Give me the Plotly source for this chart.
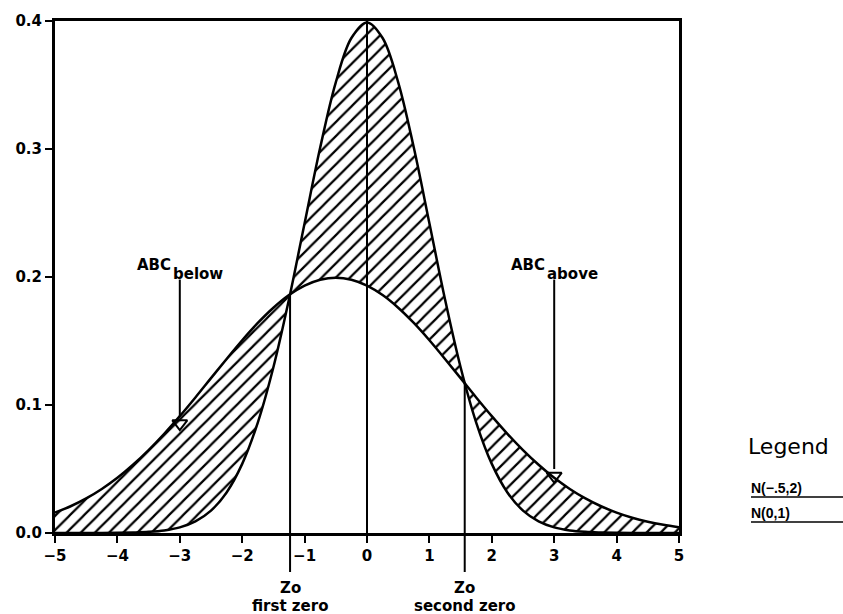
import plotly.graph_objects as go

# ---- data ----
x_vals = [-5, -4.75, -4.5, -4.25, -4, -3.75, -3.5, -3.25, -3, -2.75, -2.5, -2.25, -2, -1.75, -1.5,
          -1.25, -1, -0.75, -0.5, -0.25, 0, 0.25, 0.5, 0.75, 1, 1.25, 1.5, 1.75, 2, 2.25, 2.5,
          2.75, 3, 3.25, 3.5, 3.75, 4, 4.25, 4.5, 4.75, 5]
n_m05_2 = [0.0159, 0.0209, 0.0270, 0.0344, 0.0431, 0.0533, 0.0648, 0.0775, 0.0913, 0.1059, 0.1210,
           0.1360, 0.1506, 0.1641, 0.1760, 0.1859, 0.1933, 0.1979, 0.1995, 0.1979, 0.1933, 0.1859,
           0.1760, 0.1641, 0.1506, 0.1360, 0.1210, 0.1059, 0.0913, 0.0775, 0.0648, 0.0533, 0.0431,
           0.0344, 0.0270, 0.0209, 0.0159, 0.0119, 0.0088, 0.0064, 0.0045]
n_0_1 = [0.0000, 0.0000, 0.0000, 0.0000, 0.0001, 0.0004, 0.0009, 0.0020, 0.0044, 0.0091, 0.0175,
         0.0317, 0.0540, 0.0863, 0.1295, 0.1826, 0.2420, 0.3011, 0.3521, 0.3867, 0.3989, 0.3867,
         0.3521, 0.3011, 0.2420, 0.1826, 0.1295, 0.0863, 0.0540, 0.0317, 0.0175, 0.0091, 0.0044,
         0.0020, 0.0009, 0.0004, 0.0001, 0.0000, 0.0000, 0.0000, 0.0000]

zero_x = [-1.233, 1.566]
zero_y = [0.186, 0.117]
zero_top_labels = ["Zo", "Zo"]
zero_bottom_labels = ["first zero", "second zero"]
peak_x = 0.0
peak_y = 0.4

abc_x = [-3, 3]
abc_top = [0.198, 0.198]
abc_tip = [0.080, 0.039]
abc_main = ["ABC", "ABC"]
abc_sub = ["below", "above"]

x_ticks = [-5, -4, -3, -2, -1, 0, 1, 2, 3, 4, 5]
y_ticks = [0.0, 0.1, 0.2, 0.3, 0.4]
legend_title = "Legend"
legend_labels = ["N(−.5,2)", "N(0,1)"]

Y_MAX = 0.4
FONT = "DejaVu Sans"
W, H = 843, 614
ML, MR, MT, MB = 55, 164, 21, 81
plot_w = W - ML - MR
plot_h = H - MT - MB


def px_to_paper(px, py):
    return (px - ML) / plot_w, (H - MB - py) / plot_h


def bold(s, fam=FONT):
    return dict(family=fam, size=s, color="black", weight="bold")


fig = go.Figure()
fig.add_trace(go.Scatter(x=x_vals, y=n_m05_2, mode="lines",
                         line=dict(color="black", width=2.5, shape="spline"),
                         showlegend=False, hoverinfo="skip"))
fig.add_trace(go.Scatter(x=x_vals, y=n_0_1, mode="lines",
                         line=dict(color="black", width=2.5, shape="spline"),
                         fill="tonexty", fillcolor="rgba(0,0,0,0)",
                         fillpattern=dict(shape="/", fgcolor="black", fgopacity=1, bgcolor="white",
                                          size=10, solidity=0.22),
                         showlegend=False, hoverinfo="skip"))

shapes = []
annotations = []

# zero lines, extending below the axis
_, below = px_to_paper(0, 572)
for zx, zy in zip(zero_x, zero_y):
    shapes.append(dict(type="line", xref="x", yref="paper", x0=zx, x1=zx, y0=below, y1=zy / Y_MAX,
                       line=dict(color="black", width=2)))
# centre line
shapes.append(dict(type="line", xref="x", yref="y", x0=peak_x, x1=peak_x, y0=0, y1=peak_y,
                   line=dict(color="black", width=2)))

# arrows
tri_h = 0.011
for ax, at, tip in zip(abc_x, abc_top, abc_tip):
    shapes.append(dict(type="line", xref="x", yref="y", x0=ax, x1=ax, y0=at, y1=tip + tri_h,
                       line=dict(color="black", width=2)))
fig.add_trace(go.Scatter(x=abc_x, y=[t + tri_h / 2 for t in abc_tip], mode="markers",
                         marker=dict(symbol="triangle-down-open", size=13, color="black",
                                     line=dict(width=2, color="black")),
                         showlegend=False, hoverinfo="skip"))

for ax, at, main, sub in zip(abc_x, abc_top, abc_main, abc_sub):
    annotations.append(dict(x=ax, y=at, xref="x", yref="y", text=main, showarrow=False,
                            xanchor="right", yanchor="bottom", xshift=-7, yshift=4, font=bold(15)))
    annotations.append(dict(x=ax, y=at, xref="x", yref="y", text=sub, showarrow=False,
                            xanchor="left", yanchor="bottom", xshift=-9, yshift=-5, font=bold(15)))

_, zo_y = px_to_paper(0, 588)
_, fz_y = px_to_paper(0, 606)
for zx, top, bot in zip(zero_x, zero_top_labels, zero_bottom_labels):
    annotations.append(dict(x=zx, y=zo_y, xref="x", yref="paper", text=top, showarrow=False,
                            xanchor="center", yanchor="middle", font=bold(15)))
    annotations.append(dict(x=zx, y=fz_y, xref="x", yref="paper", text=bot, showarrow=False,
                            xanchor="center", yanchor="middle", font=bold(15)))

# legend drawn as text + underline
lx, ly = px_to_paper(746, 446)
annotations.append(dict(x=lx, y=ly, xref="paper", yref="paper", text=legend_title, showarrow=False,
                        xanchor="left", yanchor="middle",
                        font=dict(family=FONT, size=22, color="black")))
for i, lab in enumerate(legend_labels):
    tx, ty = px_to_paper(749, 488 + 25 * i)
    annotations.append(dict(x=tx, y=ty, xref="paper", yref="paper", text=lab, showarrow=False,
                            xanchor="left", yanchor="middle", font=bold(14, "Liberation Sans")))
    ux0, uy = px_to_paper(751, 497 + 25 * i)
    ux1, _ = px_to_paper(843, 497 + 25 * i)
    shapes.append(dict(type="line", xref="paper", yref="paper", x0=ux0, x1=ux1, y0=uy, y1=uy,
                       line=dict(color="black", width=1.5)))

fig.update_layout(
    width=W, height=H,
    margin=dict(l=ML, r=MR, t=MT, b=MB, autoexpand=False),
    paper_bgcolor="white", plot_bgcolor="white",
    shapes=shapes, annotations=annotations,
    showlegend=False,
)

fig.update_xaxes(range=[-5, 5], tickvals=x_ticks, ticks="outside", ticklen=7, tickwidth=2, tickcolor="black",
                 showline=True, linewidth=3, linecolor="black", mirror=True, showgrid=False, zeroline=False,
                 tickfont=bold(15))
fig.update_yaxes(range=[0, Y_MAX], tickvals=y_ticks, tickformat=".1f", ticks="outside", ticklen=7, tickwidth=2,
                 tickcolor="black", showline=True, linewidth=3, linecolor="black", mirror=True, showgrid=False,
                 zeroline=False, tickfont=bold(15))

fig.write_html("out.html", config={"displayModeBar": False},
               post_script="document.body.style.margin='0';")
